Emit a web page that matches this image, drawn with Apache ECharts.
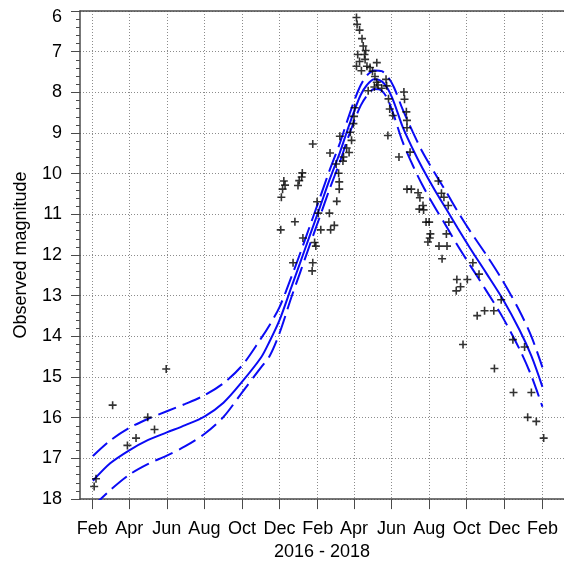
<!DOCTYPE html>
<html><head><meta charset="utf-8">
<script src="https://cdn.jsdelivr.net/npm/echarts@6/dist/echarts.min.js"></script>
<style>html,body{margin:0;padding:0;background:#fff}#c{width:564px;height:566px}</style>
</head><body><div id="c"></div>
<script>
// ---- axis ticks ----
const tickDates = ['2016-02-01','2016-04-01','2016-06-01','2016-08-01','2016-10-01','2016-12-01',
  '2017-02-01','2017-04-01','2017-06-01','2017-08-01','2017-10-01','2017-12-01','2018-02-01'];
const tickLabels = ['Feb','Apr','Jun','Aug','Oct','Dec','Feb','Apr','Jun','Aug','Oct','Dec','Feb'];
const xMinDate = '2016-01-12';
const xMaxDate = '2018-03-08';

// ---- curve dates (shared by model and bounds) ----
const curveDates = ['2016-02-02','2016-03-01','2016-04-01','2016-05-01','2016-06-01','2016-07-01','2016-08-01',
  '2016-09-01','2016-10-01','2016-11-01','2016-11-15','2016-12-01','2016-12-20','2017-01-03','2017-01-19',
  '2017-02-04','2017-02-20','2017-03-09','2017-03-21','2017-04-02','2017-04-12','2017-04-22','2017-05-04',
  '2017-05-16','2017-05-26','2017-06-05','2017-06-19','2017-07-05','2017-07-21','2017-08-10','2017-08-30',
  '2017-09-16','2017-10-06','2017-11-02','2017-11-28','2017-12-26','2018-01-14','2018-02-01'];
// model light curve (solid)
const modelMag = [17.55,17.12,16.80,16.55,16.36,16.18,15.97,15.63,15.12,14.52,14.12,13.60,12.80,12.21,11.53,
  10.85,10.16,9.48,8.94,8.43,8.06,7.82,7.68,7.73,7.92,8.25,8.85,9.38,9.86,10.40,10.90,
  11.33,11.82,12.45,13.07,13.85,14.48,15.24];
// upper bound (dashed)
const upperMag = [16.94,16.56,16.25,16.03,15.84,15.66,15.45,15.15,14.72,14.05,13.72,13.28,12.55,11.98,11.30,
  10.62,9.93,9.25,8.70,8.18,7.82,7.58,7.46,7.48,7.62,7.88,8.42,8.96,9.46,9.98,10.48,
  10.92,11.40,12.00,12.62,13.38,14.00,14.76];
// lower bound (dashed)
const lowerMag = [18.18,17.78,17.40,17.14,16.93,16.70,16.40,15.98,15.38,14.76,14.48,13.92,13.05,12.45,11.76,
  11.08,10.39,9.71,9.17,8.68,8.32,8.08,7.92,7.96,8.18,8.58,9.22,9.78,10.28,10.82,11.32,
  11.76,12.24,12.88,13.52,14.32,14.97,15.73];

// ---- observations ----
const obsDates = ['2016-02-04','2016-02-07','2016-03-05','2016-03-29','2016-04-12','2016-05-01','2016-05-12','2016-05-31',
  '2016-12-08','2016-12-10','2016-12-06','2016-12-04','2016-12-03','2017-01-02','2017-01-07','2017-01-06','2016-12-31',
  '2016-12-26','2016-12-23','2017-01-08','2017-01-24','2017-01-31','2017-02-02','2017-02-06','2017-01-27','2017-01-29',
  '2017-01-24','2017-01-23','2017-02-21','2017-02-20','2017-02-22','2017-02-28','2017-03-03','2017-03-04','2017-03-07',
  '2017-03-08','2017-03-08','2017-03-09','2017-03-20','2017-03-24','2017-03-15','2017-03-14','2017-03-26','2017-03-28',
  '2017-03-31','2017-04-01','2017-04-02',
  '2017-04-05','2017-04-06','2017-04-10','2017-04-14','2017-04-16','2017-04-20','2017-04-18','2017-04-07','2017-04-10',
  '2017-04-19','2017-04-05','2017-04-13','2017-04-22','2017-04-27','2017-05-08','2017-05-01','2017-05-05','2017-05-08',
  '2017-05-10','2017-05-04','2017-05-16','2017-04-24','2017-05-23','2017-05-24','2017-05-27','2017-05-29','2017-06-03',
  '2017-05-26','2017-06-21','2017-06-22','2017-06-25','2017-06-26','2017-06-26','2017-06-13','2017-07-01',
  '2017-08-16','2017-06-26','2017-07-03','2017-07-14','2017-07-17','2017-08-21','2017-08-25','2017-09-01','2017-07-22',
  '2017-07-16','2017-07-23','2017-07-27','2017-08-01','2017-09-02','2017-08-29','2017-08-03','2017-08-02','2017-07-30',
  '2017-08-17','2017-08-30','2017-08-22','2017-10-11','2017-10-21','2017-09-15','2017-10-02','2017-09-21','2017-09-14',
  '2017-11-26','2017-10-30','2017-11-14','2017-10-18','2017-12-15','2018-01-03','2017-09-25','2017-11-15','2017-12-16',
  '2018-01-14','2018-01-08','2018-01-22','2018-02-03'];
const obsMags = [17.69,17.50,15.69,16.68,16.50,15.99,16.29,14.80,
  10.18,10.28,10.38,10.58,11.38,10.17,9.98,10.08,10.29,
  11.18,12.19,11.58,9.27,10.69,10.97,11.38,11.69,11.78,
  12.19,12.39,9.49,10.97,11.38,11.27,9.76,10.68,9.99,
  10.20,10.38,9.08,9.37,9.48,9.59,9.69,8.98,9.18,
  8.77,8.59,8.38,
  6.16,6.33,6.47,6.68,6.86,6.97,7.07,7.07,7.24,
  7.19,7.36,7.47,7.36,7.39,7.27,7.48,7.61,7.75,
  7.82,7.87,7.90,7.96,7.68,7.84,8.16,8.41,8.57,
  9.06,7.99,8.17,8.48,8.69,8.87,9.59,9.47,
  10.18,10.38,10.38,10.47,10.59,10.48,10.58,10.78,10.78,
  10.87,10.89,11.19,11.19,11.19,11.48,11.48,11.58,11.68,
  11.78,11.78,12.09,12.19,12.47,12.60,12.60,12.78,12.88,
  13.10,13.37,13.37,13.49,14.08,14.26,14.20,14.79,15.38,
  15.38,15.99,16.09,16.50];

// ---- build ----
function t(s){ const p = s.split('-').map(Number); return Date.UTC(p[0], p[1]-1, p[2]); }
function zip(ds, vs){ return ds.map((d,i)=>[t(d), vs[i]]); }
const tickTimes = tickDates.map(t);
const BLUE = '#0a0af5';
const FONT = '"Liberation Sans", Arial, sans-serif';
const AXIS = '#4a4a4a';
const plus = 'path://M0 4H4V0H6V4H10V6H6V10H4V6H0Z';

const chart = echarts.init(document.getElementById('c'), null, {renderer:'canvas'});
chart.setOption({
  animation: false,
  backgroundColor: '#fff',
  grid: { left: 80, right: 0, top: 11, bottom: 63, containLabel: false },
  xAxis: [{
    type: 'value', min: t(xMinDate), max: t(xMaxDate),
    name: '2016 - 2018', nameLocation: 'middle', nameGap: 42,
    nameTextStyle: { fontSize: 18, color: '#000', fontFamily: FONT },
    axisLine: { show: true, lineStyle: { color: AXIS, width: 1.5 } },
    axisTick: { show: true, length: 10, customValues: tickTimes, lineStyle: { color: AXIS } },
    axisLabel: { customValues: tickTimes, margin: 21, fontSize: 18, color: '#000', fontFamily: FONT,
      formatter: v => { const i = tickTimes.indexOf(v); return i >= 0 ? tickLabels[i] : ''; } },
    splitLine: { show: true, lineStyle: { color: '#8c8c8c', type: [1, 2], width: 1 } }
  }, {
    type: 'value', position: 'top', min: t(xMinDate), max: t(xMaxDate),
    axisLine: { show: true, lineStyle: { color: AXIS, width: 1.5 } },
    axisTick: { show: false }, axisLabel: { show: false }, splitLine: { show: false }
  }],
  yAxis: {
    type: 'value', inverse: true, min: 6, max: 18, interval: 1,
    name: 'Observed magnitude', nameLocation: 'middle', nameGap: 50, nameRotate: 90,
    nameTextStyle: { fontSize: 18, color: '#000', fontFamily: FONT },
    axisLine: { show: true, lineStyle: { color: AXIS, width: 1.5 } },
    axisTick: { show: true, length: 9, lineStyle: { color: AXIS } },
    minorTick: { show: true, splitNumber: 5, length: 4, lineStyle: { color: AXIS } },
    axisLabel: { margin: 18, fontSize: 18, color: '#000', fontFamily: FONT,
      formatter: v => v === 6 ? '{top|6}' : String(v),
      rich: { top: { fontSize: 18, color: '#000', fontFamily: FONT, padding: [12, 0, 0, 0] } } },
    splitLine: { show: true, lineStyle: { color: '#8c8c8c', type: [1, 2], width: 1 } }
  },
  series: [
    { type: 'line', data: zip(curveDates, lowerMag), showSymbol: false, smooth: 0.3, clip: true,
      lineStyle: { color: BLUE, width: 2, type: [19, 7] }, z: 2 },
    { type: 'line', data: zip(curveDates, upperMag), showSymbol: false, smooth: 0.3, clip: true,
      lineStyle: { color: BLUE, width: 2, type: [19, 7] }, z: 2 },
    { type: 'line', data: zip(curveDates, modelMag), showSymbol: false, smooth: 0.3, clip: true,
      lineStyle: { color: BLUE, width: 2 }, z: 3 },
    { type: 'scatter', data: zip(obsDates, obsMags), symbol: plus, symbolSize: 8,
      itemStyle: { color: '#000' }, z: 4 }
  ]
});
</script></body></html>
